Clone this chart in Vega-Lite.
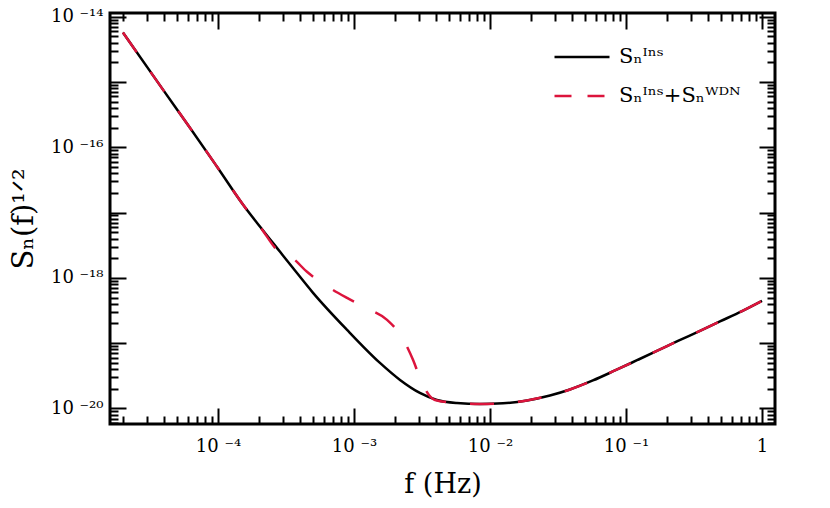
{
  "$schema": "https://vega.github.io/schema/vega-lite/v6.json",
  "width": 665,
  "height": 411,
  "autosize": {"type": "none"},
  "padding": {"left": 110, "top": 13, "right": 55, "bottom": 84},
  "background": "white",
  "config": {
    "view": {"stroke": "black", "strokeWidth": 3},
    "axis": {
      "domain": false, "grid": false, "tickColor": "black", "tickWidth": 2,
      "labelFont": "DejaVu Serif", "labelFontSize": 18, "labelColor": "black",
      "titleFont": "DejaVu Serif", "titleFontWeight": "normal", "titleColor": "black",
      "labelOverlap": false, "labelFlush": false
    }
  },
  "data": {"values": [
    {"f": 2.0e-5, "s": 5.69e-15, "k": "a", "series": "Sₙᴵⁿˢ"},
    {"f": 3.94e-5, "s": 7.60e-16, "k": "a", "series": "Sₙᴵⁿˢ"},
    {"f": 6.22e-5, "s": 1.99e-16, "k": "a", "series": "Sₙᴵⁿˢ"},
    {"f": 9.84e-5, "s": 5.02e-17, "k": "a", "series": "Sₙᴵⁿˢ"},
    {"f": 1.53e-4, "s": 1.315e-17, "k": "a", "series": "Sₙᴵⁿˢ"},
    {"f": 2.04e-4, "s": 6.05e-18, "k": "a", "series": "Sₙᴵⁿˢ"},
    {"f": 2.86e-4, "s": 2.50e-18, "k": "a", "series": "Sₙᴵⁿˢ"},
    {"f": 3.50e-4, "s": 1.476e-18, "k": "a", "series": "Sₙᴵⁿˢ"},
    {"f": 5.00e-4, "s": 5.89e-19, "k": "a", "series": "Sₙᴵⁿˢ"},
    {"f": 8.89e-4, "s": 1.596e-19, "k": "a", "series": "Sₙᴵⁿˢ"},
    {"f": 1.552e-3, "s": 4.98e-20, "k": "a", "series": "Sₙᴵⁿˢ"},
    {"f": 2.18e-3, "s": 2.735e-20, "k": "a", "series": "Sₙᴵⁿˢ"},
    {"f": 3.05e-3, "s": 1.73e-20, "k": "a", "series": "Sₙᴵⁿˢ"},
    {"f": 4.07e-3, "s": 1.349e-20, "k": "a", "series": "Sₙᴵⁿˢ"},
    {"f": 5.71e-3, "s": 1.213e-20, "k": "a", "series": "Sₙᴵⁿˢ"},
    {"f": 8.43e-3, "s": 1.172e-20, "k": "a", "series": "Sₙᴵⁿˢ"},
    {"f": 1.247e-2, "s": 1.202e-20, "k": "a", "series": "Sₙᴵⁿˢ"},
    {"f": 1.871e-2, "s": 1.327e-20, "k": "a", "series": "Sₙᴵⁿˢ"},
    {"f": 2.76e-2, "s": 1.581e-20, "k": "a", "series": "Sₙᴵⁿˢ"},
    {"f": 3.87e-2, "s": 1.954e-20, "k": "a", "series": "Sₙᴵⁿˢ"},
    {"f": 5.71e-2, "s": 2.685e-20, "k": "a", "series": "Sₙᴵⁿˢ"},
    {"f": 8.30e-2, "s": 3.82e-20, "k": "a", "series": "Sₙᴵⁿˢ"},
    {"f": 0.1205, "s": 5.48e-20, "k": "a", "series": "Sₙᴵⁿˢ"},
    {"f": 0.1718, "s": 7.74e-20, "k": "a", "series": "Sₙᴵⁿˢ"},
    {"f": 0.241, "s": 1.081e-19, "k": "a", "series": "Sₙᴵⁿˢ"},
    {"f": 0.350, "s": 1.542e-19, "k": "a", "series": "Sₙᴵⁿˢ"},
    {"f": 0.491, "s": 2.15e-19, "k": "a", "series": "Sₙᴵⁿˢ"},
    {"f": 0.713, "s": 3.10e-19, "k": "a", "series": "Sₙᴵⁿˢ"},
    {"f": 1.0, "s": 4.45e-19, "k": "a", "series": "Sₙᴵⁿˢ"},
    {"f": 2.0e-5, "s": 5.69e-15, "k": "b", "series": "Sₙᴵⁿˢ+Sₙᵂᴰᴺ"},
    {"f": 3.94e-5, "s": 7.60e-16, "k": "b", "series": "Sₙᴵⁿˢ+Sₙᵂᴰᴺ"},
    {"f": 6.22e-5, "s": 1.99e-16, "k": "b", "series": "Sₙᴵⁿˢ+Sₙᵂᴰᴺ"},
    {"f": 9.84e-5, "s": 5.02e-17, "k": "b", "series": "Sₙᴵⁿˢ+Sₙᵂᴰᴺ"},
    {"f": 1.53e-4, "s": 1.315e-17, "k": "b", "series": "Sₙᴵⁿˢ+Sₙᵂᴰᴺ"},
    {"f": 2.04e-4, "s": 6.05e-18, "k": "b", "series": "Sₙᴵⁿˢ+Sₙᵂᴰᴺ"},
    {"f": 2.86e-4, "s": 2.415e-18, "k": "b", "series": "Sₙᴵⁿˢ+Sₙᵂᴰᴺ"},
    {"f": 3.50e-4, "s": 2.03e-18, "k": "b", "series": "Sₙᴵⁿˢ+Sₙᵂᴰᴺ"},
    {"f": 4.51e-4, "s": 1.236e-18, "k": "b", "series": "Sₙᴵⁿˢ+Sₙᵂᴰᴺ"},
    {"f": 6.44e-4, "s": 7.28e-19, "k": "b", "series": "Sₙᴵⁿˢ+Sₙᵂᴰᴺ"},
    {"f": 8.89e-4, "s": 4.93e-19, "k": "b", "series": "Sₙᴵⁿˢ+Sₙᵂᴰᴺ"},
    {"f": 1.268e-3, "s": 3.35e-19, "k": "b", "series": "Sₙᴵⁿˢ+Sₙᵂᴰᴺ"},
    {"f": 1.750e-3, "s": 2.27e-19, "k": "b", "series": "Sₙᴵⁿˢ+Sₙᵂᴰᴺ"},
    {"f": 2.29e-3, "s": 1.161e-19, "k": "b", "series": "Sₙᴵⁿˢ+Sₙᵂᴰᴺ"},
    {"f": 2.72e-3, "s": 5.53e-20, "k": "b", "series": "Sₙᴵⁿˢ+Sₙᵂᴰᴺ"},
    {"f": 3.16e-3, "s": 2.46e-20, "k": "b", "series": "Sₙᴵⁿˢ+Sₙᵂᴰᴺ"},
    {"f": 3.94e-3, "s": 1.349e-20, "k": "b", "series": "Sₙᴵⁿˢ+Sₙᵂᴰᴺ"},
    {"f": 5.71e-3, "s": 1.213e-20, "k": "b", "series": "Sₙᴵⁿˢ+Sₙᵂᴰᴺ"},
    {"f": 8.43e-3, "s": 1.172e-20, "k": "b", "series": "Sₙᴵⁿˢ+Sₙᵂᴰᴺ"},
    {"f": 1.247e-2, "s": 1.202e-20, "k": "b", "series": "Sₙᴵⁿˢ+Sₙᵂᴰᴺ"},
    {"f": 1.871e-2, "s": 1.327e-20, "k": "b", "series": "Sₙᴵⁿˢ+Sₙᵂᴰᴺ"},
    {"f": 2.76e-2, "s": 1.581e-20, "k": "b", "series": "Sₙᴵⁿˢ+Sₙᵂᴰᴺ"},
    {"f": 3.87e-2, "s": 1.954e-20, "k": "b", "series": "Sₙᴵⁿˢ+Sₙᵂᴰᴺ"},
    {"f": 5.71e-2, "s": 2.685e-20, "k": "b", "series": "Sₙᴵⁿˢ+Sₙᵂᴰᴺ"},
    {"f": 8.30e-2, "s": 3.82e-20, "k": "b", "series": "Sₙᴵⁿˢ+Sₙᵂᴰᴺ"},
    {"f": 0.1205, "s": 5.48e-20, "k": "b", "series": "Sₙᴵⁿˢ+Sₙᵂᴰᴺ"},
    {"f": 0.1718, "s": 7.74e-20, "k": "b", "series": "Sₙᴵⁿˢ+Sₙᵂᴰᴺ"},
    {"f": 0.241, "s": 1.081e-19, "k": "b", "series": "Sₙᴵⁿˢ+Sₙᵂᴰᴺ"},
    {"f": 0.350, "s": 1.542e-19, "k": "b", "series": "Sₙᴵⁿˢ+Sₙᵂᴰᴺ"},
    {"f": 0.491, "s": 2.15e-19, "k": "b", "series": "Sₙᴵⁿˢ+Sₙᵂᴰᴺ"},
    {"f": 0.713, "s": 3.10e-19, "k": "b", "series": "Sₙᴵⁿˢ+Sₙᵂᴰᴺ"},
    {"f": 1.0, "s": 4.45e-19, "k": "b", "series": "Sₙᴵⁿˢ+Sₙᵂᴰᴺ"}
  ]},
  "layer": [
    {
      "transform": [{"filter": "datum.k == 'a'"}],
      "mark": {"type": "line", "strokeWidth": 2.5, "interpolate": "monotone"},
      "encoding": {
        "x": {"field": "f", "type": "quantitative",
          "scale": {"type": "log", "domain": [1.607e-5, 1.246], "nice": false},
          "axis": {"orient": "bottom", "values": [0.0001, 0.001, 0.01, 0.1, 1], "tickSize": -16, "labelPadding": 29,
            "labelExpr": "datum.value > 0.5 ? '1' : '10 ⁻' + replace(replace(replace(replace('' + round(-log(datum.value)/LN10), '4', '⁴'), '3', '³'), '2', '²'), '1', '¹')",
            "title": "f (Hz)", "titleFontSize": 27, "titlePadding": 16}},
        "y": {"field": "s", "type": "quantitative",
          "scale": {"type": "log", "domain": [5.79e-21, 1.132e-14], "nice": false},
          "axis": {"orient": "left", "values": [1e-20, 1e-19, 1e-18, 1e-17, 1e-16, 1e-15, 1e-14], "tickSize": -16, "labelPadding": 23,
            "labelExpr": "round(-log(datum.value)/LN10) % 2 == 1 ? '' : '10 ⁻' + replace(replace(replace(replace(replace(replace('' + round(-log(datum.value)/LN10), '0', '⁰'), '1', '¹'), '2', '²'), '4', '⁴'), '6', '⁶'), '8', '⁸')",
            "title": "Sₙ(f)¹ᐟ²", "titleFontSize": 29, "titlePadding": 12}},
        "color": {"field": "series", "type": "nominal",
          "scale": {"domain": ["Sₙᴵⁿˢ", "Sₙᴵⁿˢ+Sₙᵂᴰᴺ"], "range": ["black", "#DC143C"]},
          "legend": {"title": null, "orient": "none", "legendX": 443, "legendY": 34,
            "symbolType": "stroke", "symbolSize": 3025, "symbolStrokeWidth": 2.5,
            "labelFont": "DejaVu Serif", "labelFontSize": 21, "labelColor": "black", "labelOffset": 8,
            "clipHeight": 20, "rowPadding": 18,
            "encode": {"symbols": {"update": {"strokeDash": {"signal": "datum.index === 0 ? [1, 0] : [17, 16]"}}}}}}
      }
    },
    {
      "transform": [{"filter": "datum.k == 'b'"}],
      "mark": {"type": "line", "strokeWidth": 2.5, "interpolate": "monotone", "strokeDash": [24, 24]},
      "encoding": {
        "x": {"field": "f", "type": "quantitative",
          "scale": {"type": "log", "domain": [1.607e-5, 1.246], "nice": false},
          "axis": {"orient": "bottom", "tickSize": -8, "labels": false, "title": null,
            "values": [2e-5, 3e-5, 4e-5, 5e-5, 6e-5, 7e-5, 8e-5, 9e-5, 0.0002, 0.0003, 0.0004, 0.0005, 0.0006, 0.0007, 0.0008, 0.0009, 0.002, 0.003, 0.004, 0.005, 0.006, 0.007, 0.008, 0.009, 0.02, 0.03, 0.04, 0.05, 0.06, 0.07, 0.08, 0.09, 0.2, 0.3, 0.4, 0.5, 0.6, 0.7, 0.8, 0.9]}},
        "y": {"field": "s", "type": "quantitative",
          "scale": {"type": "log", "domain": [5.79e-21, 1.132e-14], "nice": false},
          "axis": {"orient": "left", "tickSize": -8, "labels": false, "title": null,
            "values": [6e-21, 7e-21, 8e-21, 9e-21, 2e-20, 3e-20, 4e-20, 5e-20, 6e-20, 7e-20, 8e-20, 9e-20, 2e-19, 3e-19, 4e-19, 5e-19, 6e-19, 7e-19, 8e-19, 9e-19, 2e-18, 3e-18, 4e-18, 5e-18, 6e-18, 7e-18, 8e-18, 9e-18, 2e-17, 3e-17, 4e-17, 5e-17, 6e-17, 7e-17, 8e-17, 9e-17, 2e-16, 3e-16, 4e-16, 5e-16, 6e-16, 7e-16, 8e-16, 9e-16, 2e-15, 3e-15, 4e-15, 5e-15, 6e-15, 7e-15, 8e-15, 9e-15]}},
        "color": {"field": "series", "type": "nominal",
          "scale": {"domain": ["Sₙᴵⁿˢ", "Sₙᴵⁿˢ+Sₙᵂᴰᴺ"], "range": ["black", "#DC143C"]}}
      }
    },
    {
      "transform": [{"filter": "datum.k == 'a'"}],
      "mark": {"type": "line", "opacity": 0},
      "encoding": {
        "x": {"field": "f", "type": "quantitative",
          "scale": {"type": "log", "domain": [1.607e-5, 1.246], "nice": false},
          "axis": {"orient": "top", "values": [0.0001, 0.001, 0.01, 0.1, 1], "tickSize": -16, "labels": false, "title": null}},
        "y": {"field": "s", "type": "quantitative",
          "scale": {"type": "log", "domain": [5.79e-21, 1.132e-14], "nice": false},
          "axis": {"orient": "right", "values": [1e-20, 1e-19, 1e-18, 1e-17, 1e-16, 1e-15, 1e-14], "tickSize": -16, "labels": false, "title": null}}
      }
    },
    {
      "transform": [{"filter": "datum.k == 'a'"}],
      "mark": {"type": "line", "opacity": 0},
      "encoding": {
        "x": {"field": "f", "type": "quantitative",
          "scale": {"type": "log", "domain": [1.607e-5, 1.246], "nice": false},
          "axis": {"orient": "top", "tickSize": -8, "labels": false, "title": null,
            "values": [2e-5, 3e-5, 4e-5, 5e-5, 6e-5, 7e-5, 8e-5, 9e-5, 0.0002, 0.0003, 0.0004, 0.0005, 0.0006, 0.0007, 0.0008, 0.0009, 0.002, 0.003, 0.004, 0.005, 0.006, 0.007, 0.008, 0.009, 0.02, 0.03, 0.04, 0.05, 0.06, 0.07, 0.08, 0.09, 0.2, 0.3, 0.4, 0.5, 0.6, 0.7, 0.8, 0.9]}},
        "y": {"field": "s", "type": "quantitative",
          "scale": {"type": "log", "domain": [5.79e-21, 1.132e-14], "nice": false},
          "axis": {"orient": "right", "tickSize": -8, "labels": false, "title": null,
            "values": [6e-21, 7e-21, 8e-21, 9e-21, 2e-20, 3e-20, 4e-20, 5e-20, 6e-20, 7e-20, 8e-20, 9e-20, 2e-19, 3e-19, 4e-19, 5e-19, 6e-19, 7e-19, 8e-19, 9e-19, 2e-18, 3e-18, 4e-18, 5e-18, 6e-18, 7e-18, 8e-18, 9e-18, 2e-17, 3e-17, 4e-17, 5e-17, 6e-17, 7e-17, 8e-17, 9e-17, 2e-16, 3e-16, 4e-16, 5e-16, 6e-16, 7e-16, 8e-16, 9e-16, 2e-15, 3e-15, 4e-15, 5e-15, 6e-15, 7e-15, 8e-15, 9e-15]}}
      }
    }
  ],
  "resolve": {"axis": {"x": "independent", "y": "independent"}}
}
